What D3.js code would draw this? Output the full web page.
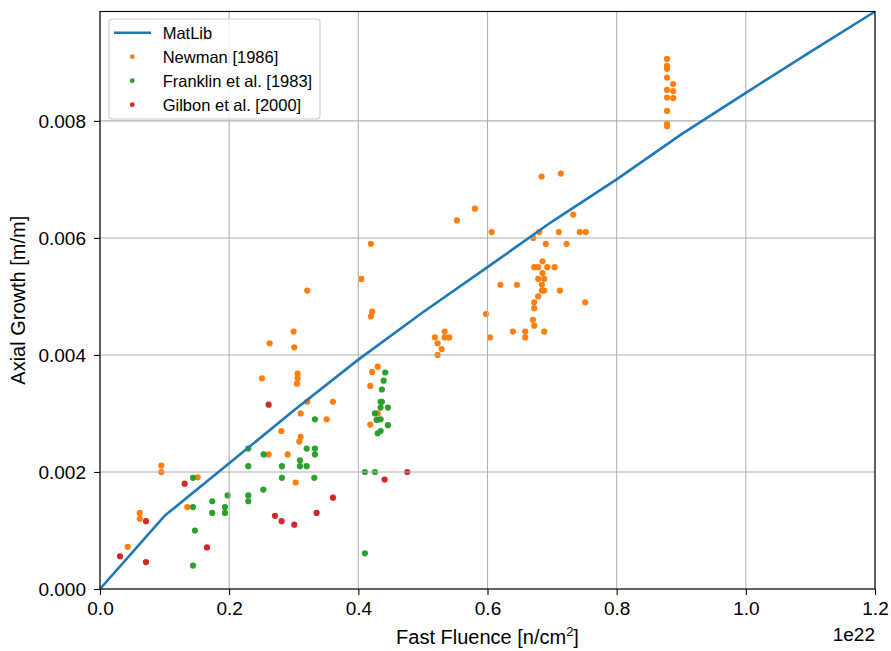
<!DOCTYPE html>
<html>
<head>
<meta charset="utf-8">
<script src="https://cdn.jsdelivr.net/npm/d3@7"></script>
<style>
  body { margin: 0; background: #fff; }
  svg { display: block; font-family: "Liberation Sans", Arial, sans-serif; }
</style>
</head>
<body>
<svg id="chart" width="891" height="651"></svg>
<script>
// ---- Data (fluence in units of 1e22 n/cm^2, growth in m/m) ----
const matlibX = [0, 0.1, 0.2, 0.3, 0.4, 0.5, 0.6, 0.7, 0.8, 0.9, 1.0, 1.1, 1.2];
const matlibY = [0, 0.00125, 0.00215, 0.00305, 0.00392, 0.00473, 0.0055, 0.00628, 0.0070, 0.00777, 0.00848, 0.00918, 0.00987];

const newmanX = [0.0429, 0.0615, 0.0615, 0.0949, 0.0949, 0.1351, 0.1512, 0.2508, 0.2611, 0.2627,
  0.2807, 0.2906, 0.2998, 0.3008, 0.303, 0.305, 0.306, 0.306, 0.3085, 0.3107,
  0.3107, 0.3209, 0.3209, 0.351, 0.3607, 0.4045, 0.4185, 0.4185, 0.4195, 0.4195,
  0.4215, 0.4215, 0.43, 0.43, 0.5186, 0.5227, 0.5227, 0.529, 0.5336, 0.5336,
  0.5407, 0.5526, 0.5805, 0.5975, 0.6037, 0.6063, 0.62, 0.6393, 0.6455, 0.6584,
  0.6584, 0.6703, 0.6708, 0.6723, 0.6723, 0.6723, 0.6723, 0.6785, 0.6785, 0.6785,
  0.68, 0.6837, 0.6842, 0.6842, 0.6852, 0.6852, 0.6878, 0.6878, 0.6878, 0.6904,
  0.6925, 0.7039, 0.7105, 0.7121, 0.7136, 0.7224, 0.7327, 0.743, 0.7513, 0.7523,
  0.878, 0.878, 0.878, 0.878, 0.8875, 0.878, 0.8875, 0.878, 0.8875, 0.878,
  0.878, 0.878];
const newmanY = [0.00072, 0.0013, 0.0012, 0.00211, 0.0020, 0.0014, 0.00191, 0.0036, 0.0023, 0.0042,
  0.0027, 0.0023, 0.0044, 0.00413, 0.00182, 0.00351, 0.0036, 0.00368, 0.00252, 0.0026,
  0.0030, 0.0051, 0.0032, 0.0029, 0.0032, 0.0053, 0.00347, 0.00281, 0.0059, 0.00466,
  0.00474, 0.00371, 0.0038, 0.0030, 0.0043, 0.0042, 0.0040, 0.0041, 0.0044, 0.0043,
  0.0043, 0.0063, 0.0065, 0.0047, 0.0043, 0.0061, 0.0052, 0.0044, 0.0052, 0.0044,
  0.0043, 0.0046, 0.0060, 0.0055, 0.0049, 0.0048, 0.0045, 0.0055, 0.0053, 0.0050,
  0.0061, 0.00705, 0.0052, 0.0051, 0.0056, 0.0054, 0.0053, 0.0051, 0.0044, 0.0059,
  0.0055, 0.0055, 0.0061, 0.0051, 0.0071, 0.0059, 0.0064, 0.0061, 0.0049, 0.0061,
  0.00906, 0.00894, 0.00889, 0.00874, 0.00863, 0.00853, 0.00851, 0.0084, 0.00839, 0.00817,
  0.00795, 0.00791];

const franklinX = [0.144, 0.144, 0.144, 0.147, 0.1738, 0.1738, 0.1935, 0.1935, 0.1977, 0.2296,
  0.2296, 0.2296, 0.2296, 0.2528, 0.2534, 0.2817, 0.2817, 0.3096, 0.3096, 0.32,
  0.32, 0.3318, 0.3328, 0.3328, 0.3328, 0.4102, 0.4102, 0.4257, 0.4257, 0.4283,
  0.43, 0.4345, 0.4345, 0.4345, 0.4345, 0.4365, 0.4365, 0.4392, 0.4417, 0.4458,
  0.4458];
const franklinY = [0.0019, 0.0014, 0.0004, 0.0010, 0.0015, 0.0013, 0.0014, 0.0013, 0.0016, 0.0024,
  0.0021, 0.0016, 0.0015, 0.0017, 0.0023, 0.0021, 0.0019, 0.0022, 0.0021, 0.0024,
  0.0021, 0.0019, 0.0029, 0.0024, 0.0023, 0.0020, 0.00061, 0.0020, 0.0030, 0.00289,
  0.00266, 0.0032, 0.0031, 0.0029, 0.0027, 0.0032, 0.00341, 0.00356, 0.0037, 0.0031,
  0.0028];

const gilbonX = [0.031, 0.0712, 0.0712, 0.1311, 0.1656, 0.2611, 0.2709, 0.2812, 0.3008, 0.3354, 0.3607, 0.4407, 0.4757];
const gilbonY = [0.00056, 0.00116, 0.00046, 0.0018, 0.00071, 0.00315, 0.00125, 0.00116, 0.0011, 0.0013, 0.00156, 0.00187, 0.0020];

const xTicks = [0, 0.2, 0.4, 0.6, 0.8, 1.0, 1.2];
const yTicks = [0, 0.002, 0.004, 0.006, 0.008];

const seriesNames = ["MatLib", "Newman [1986]", "Franklin et al. [1983]", "Gilbon et al. [2000]"];
const seriesColors = ["#1f77b4", "#ff7f0e", "#2ca02c", "#d62728"];

// ---- Layout ----
const svg = d3.select("#chart");
const margin = { left: 100, right: 16, top: 11.5, bottom: 62 };
const W = 891, H = 651;
const x = d3.scaleLinear().domain([0, 1.2]).range([margin.left, W - margin.right]);
const y = d3.scaleLinear().domain([0, 0.00987]).range([H - margin.bottom, margin.top]);

const tickFont = 19;
const labelFont = 20;

// grid group (created first, raised above scatter later)
const grid = svg.append("g");
const scatterSets = [
  [newmanX, newmanY, seriesColors[1]],
  [franklinX, franklinY, seriesColors[2]],
  [gilbonX, gilbonY, seriesColors[3]]
];
const scat = svg.append("g");
scatterSets.forEach(([xs, ys, c]) => {
  scat.append("g").selectAll("circle").data(xs.map((v, i) => [v, ys[i]])).join("circle")
    .attr("cx", d => x(d[0])).attr("cy", d => y(d[1])).attr("r", 3.1).attr("fill", c);
});

grid.raise();
grid.selectAll("line.gx").data(xTicks).join("line")
  .attr("x1", d => x(d)).attr("x2", d => x(d))
  .attr("y1", y.range()[0]).attr("y2", y.range()[1])
  .attr("stroke", "#b0b0b0").attr("stroke-width", 1.1);
grid.selectAll("line.gy").data(yTicks).join("line")
  .attr("y1", d => y(d)).attr("y2", d => y(d))
  .attr("x1", x.range()[0]).attr("x2", x.range()[1])
  .attr("stroke", "#b0b0b0").attr("stroke-width", 1.1);

// MatLib line
const lineGen = d3.line().x(d => x(d[0])).y(d => y(d[1]));
svg.append("path")
  .datum(matlibX.map((v, i) => [v, matlibY[i]]))
  .attr("d", lineGen)
  .attr("fill", "none").attr("stroke", seriesColors[0]).attr("stroke-width", 2.6)
  .attr("stroke-linejoin", "round");

// axes
const xAxis = d3.axisBottom(x).tickValues(xTicks).tickFormat(d3.format(".1f")).tickSizeOuter(0).tickSize(6).tickPadding(7);
const yAxis = d3.axisLeft(y).tickValues(yTicks).tickFormat(d3.format(".3f")).tickSizeOuter(0).tickSize(6).tickPadding(8);

const gx = svg.append("g").attr("transform", `translate(0,${y.range()[0]})`).call(xAxis);
const gy = svg.append("g").attr("transform", `translate(${x.range()[0]},0)`).call(yAxis);
[gx, gy].forEach(g => {
  g.select(".domain").remove();
  g.selectAll("line").attr("stroke", "#000").attr("stroke-width", 1.1);
  g.selectAll("text").attr("font-size", tickFont).attr("fill", "#000")
    .attr("font-family", "'Liberation Sans', Arial, sans-serif");
});

// frame
svg.append("rect")
  .attr("x", x.range()[0]).attr("y", y.range()[1])
  .attr("width", x.range()[1] - x.range()[0]).attr("height", y.range()[0] - y.range()[1])
  .attr("fill", "none").attr("stroke", "#000").attr("stroke-width", 1.1);

// axis labels
const xl = svg.append("text")
  .attr("x", (x.range()[0] + x.range()[1]) / 2).attr("y", 644)
  .attr("text-anchor", "middle").attr("font-size", labelFont);
xl.append("tspan").text("Fast Fluence [n/cm");
xl.append("tspan").text("2").attr("font-size", 13).attr("dy", -8);
xl.append("tspan").text("]").attr("dy", 8);

svg.append("text")
  .attr("transform", `translate(25,${(y.range()[0] + y.range()[1]) / 2}) rotate(-90)`)
  .attr("text-anchor", "middle").attr("font-size", labelFont)
  .text("Axial Growth [m/m]");

svg.append("text")
  .attr("x", x.range()[1]).attr("y", 641)
  .attr("text-anchor", "end").attr("font-size", tickFont)
  .text("1e22");

// legend
const lg = svg.append("g").attr("transform", "translate(109,19)");
lg.append("rect").attr("x", 0).attr("y", 0).attr("width", 211).attr("height", 100)
  .attr("rx", 3).attr("fill", "#fff").attr("fill-opacity", 0.8)
  .attr("stroke", "#cccccc").attr("stroke-width", 1.1);
seriesNames.forEach((name, i) => {
  const cy = 13.7 + i * 24;
  if (i === 0) {
    lg.append("line").attr("x1", 5).attr("x2", 42).attr("y1", cy).attr("y2", cy)
      .attr("stroke", seriesColors[0]).attr("stroke-width", 2.6);
  } else {
    lg.append("circle").attr("cx", 23.3).attr("cy", cy).attr("r", 2.4).attr("fill", seriesColors[i]);
  }
  lg.append("text").attr("x", 53.7).attr("y", cy + 6).attr("font-size", 16.5).text(name);
});
</script>
</body>
</html>
